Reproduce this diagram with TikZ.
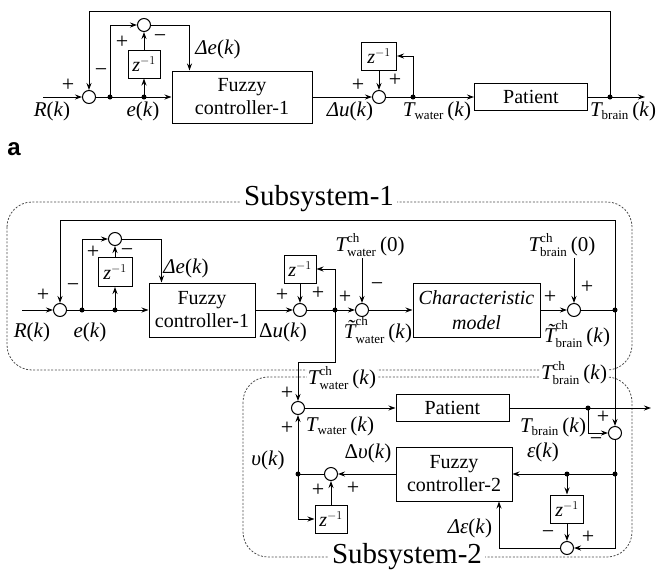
\documentclass[tikz,border=0pt]{standalone}
\usepackage{fontspec}
\usepackage{amsmath}
\setmainfont{Liberation Serif}
\newfontfamily\labfont{Liberation Sans}
\DeclareMathSizes{21}{21}{13}{10}
\DeclareMathSizes{20}{20}{13}{10}
\usetikzlibrary{arrows.meta,calc}
\newcommand\zinv{\textit{z}$^{-1}$}
\newcommand\Tsub[1]{$\text{\itshape T}_{\text{#1}}$\,(\textit{k})}
\newcommand\Tch[2]{$\text{\itshape T}^{\text{ch}}_{\text{#1}}$\,(#2)}
\newcommand\Ttil[1]{$\text{\itshape\~{T}}^{\text{ch}}_{\text{#1}}$\,(\textit{k})}
\tikzset{
  lbl/.style={inner sep=1pt},
  wlbl/.style={inner sep=1pt, fill=white},
  sum/.style={circle, draw, minimum size=13pt, inner sep=0pt, line width=1pt},
  blk/.style={draw, line width=1pt, align=center, inner sep=0pt, font=\fontsize{20}{23}\selectfont},
  zbox/.style={draw, line width=1pt, minimum width=32pt, minimum height=28pt, inner sep=0pt, font=\fontsize{20}{23}\selectfont},
  dot/.style={circle, fill, inner sep=0pt, minimum size=5pt},
  sig/.style={-{Stealth[length=7pt,width=5pt]}, line width=1pt},
  ln/.style={line width=1pt},
  subsys/.style={draw=black!70, dash pattern=on 2pt off 1.6pt, line width=0.8pt, rounded corners=25pt},
  pm/.style={font=\fontsize{22}{22}\selectfont, inner sep=0pt},
  sublbl/.style={font=\fontsize{29}{32}\selectfont, fill=white, inner sep=3pt}
}
\begin{document}
\begin{tikzpicture}[x=1pt,y=-1pt,font=\fontsize{21}{24}\selectfont]
\useasboundingbox (0,0) rectangle (657,571);
% ===================== diagram a =====================
\node[sum] (sA1) at (89,97) {};
\node[sum] (sA2) at (144,25) {};
\node[zbox] (zA1) at (144,64) {\zinv};
\node[blk, minimum width=140pt, minimum height=52pt] (fA) at (242,97) {Fuzzy\\controller-1};
\node[sum] (sA3) at (379,97) {};
\node[zbox, minimum width=35pt] (zA2) at (379,56) {\zinv};
\node[blk, minimum width=113pt, minimum height=27pt] (pA) at (531,97) {Patient};
\node[dot] (dA1) at (110,97) {};
\node[dot] (dA2) at (144,97) {};
\node[dot] (dA3) at (413,97) {};
\node[dot] (dA4) at (610,97) {};
\coordinate (inA) at (43,97);
\coordinate (outA) at (645,97);
\coordinate (topA) at (89,11);

\draw[sig] (inA) -- (sA1);
\draw[sig] (sA1) -- (fA);
\draw[sig] (dA1.center) |- (sA2);
\draw[sig] (dA2.center) -- (zA1);
\draw[sig] (zA1) -- (sA2);
\draw[sig] (sA2) -| ([xshift=18pt]fA.north west);
\draw[sig] (fA) -- (sA3);
\draw[sig] (sA3) -- (pA);
\draw[sig] (dA3.center) |- (zA2);
\draw[sig] (zA2) -- (sA3);
\draw[sig] (pA) -- (outA);
\draw[sig] (dA4.center) |- (topA) -- (sA1);

\node[pm] (pA1) at (68,85) {+};
\node[pm] (mA1) at (101,73) {−};
\node[pm] (pA2) at (122,42) {+};
\node[pm] (mA2) at (160,39) {−};
\node[pm] (pA3) at (358,85) {+};
\node[pm] (pA4) at (395,80) {+};
\node[lbl] (lDe) at (218,49) {\textit{Δe}(\textit{k})};
\node[lbl] (lR) at (52,111) {\textit{R}(\textit{k})};
\node[lbl] (le) at (143,111) {\textit{e}(\textit{k})};
\node[lbl] (lDu) at (350,111) {\textit{Δu}(\textit{k})};
\node[lbl] (lTw) at (437,111) {\Tsub{water}};
\node[lbl] (lTb) at (623,111) {\Tsub{brain}};
\node[font=\labfont\bfseries\fontsize{24}{24}\selectfont, inner sep=0pt] (la) at (14,149) {a};

% ===================== diagram b =====================
\draw[subsys] (7,202) rectangle (632,370);
\draw[subsys] (243,377) rectangle (632,557);
\node[sublbl] (ss1) at (319,199) {Subsystem-1};
\node[sublbl] (ss2) at (407,557) {Subsystem-2};

\node[sum] (s1) at (60,310) {};
\node[sum] (s2) at (115,239) {};
\node[zbox, minimum width=34pt, minimum height=29pt] (z1) at (115,272) {\zinv};
\node[blk, minimum width=106pt, minimum height=54pt] (f1) at (202,310) {Fuzzy\\controller-1};
\node[sum] (s3) at (300,310) {};
\node[zbox] (z2) at (300,269) {\zinv};
\node[sum] (s4) at (362,310) {};
\node[blk, minimum width=127pt, minimum height=54pt, font=\fontsize{20}{25}\selectfont\itshape] (cm) at (476.5,310) {Characteristic\\model};
\node[sum] (s5) at (574,310) {};
\node[dot] (d1) at (82,310) {};
\node[dot] (d2) at (115,310) {};
\node[dot] (d3) at (335,310) {};
\node[dot] (d4) at (615,310) {};
\coordinate (inB) at (22,310);
\coordinate (topB) at (60,220);
\coordinate (w0) at (362,258);
\coordinate (b0) at (574,258);
\coordinate (kW) at (298,362);

\node[sum] (s7) at (298,408) {};
\node[blk, minimum width=113pt, minimum height=27pt] (p) at (452.5,408) {Patient};
\node[dot] (d5) at (588,408) {};
\coordinate (outB) at (651,408);
\node[sum] (s6) at (615,433) {};
\node[dot] (d6) at (615,474) {};
\node[dot] (d7) at (567,474) {};
\node[zbox, minimum width=33pt] (z3) at (567,509) {\zinv};
\node[sum] (s8) at (567,548) {};
\node[blk, minimum width=116pt, minimum height=54pt] (f2) at (454,474) {Fuzzy\\controller-2};
\node[sum] (s9) at (331,474) {};
\node[dot] (d8) at (298,474) {};
\node[zbox] (z4) at (331,519) {\zinv};

% labels that hide the dashed frames
\node[wlbl] (lTwk) at (342,378) {\Tch{water}{\textit{k}}};
\node[wlbl] (lTbk) at (574,373) {\Tch{brain}{\textit{k}}};

% connectors, subsystem 1
\draw[sig] (inB) -- (s1);
\draw[sig] (s1) -- (f1);
\draw[sig] (d1.center) |- (s2);
\draw[sig] (d2.center) -- (z1);
\draw[sig] (z1) -- (s2);
\draw[sig] (s2) -| ([xshift=13pt]f1.north west);
\draw[sig] (f1) -- (s3);
\draw[sig] (s3) -- (s4);
\draw[sig] (d3.center) |- (z2);
\draw[sig] (z2) -- (s3);
\draw[sig] (w0) -- (s4);
\draw[sig] (s4) -- (cm);
\draw[sig] (cm) -- (s5);
\draw[sig] (b0) -- (s5);
\draw[ln] (s5) -- (d4.center);
\draw[sig] (d4.center) |- (topB) -- (s1);
\draw[sig] (d4.center) -- (s6);
\draw[sig] (d3.center) |- (kW) -- (s7);
% connectors, subsystem 2
\draw[sig] (s7) -- (p);
\draw[sig] (p) -- (outB);
\draw[sig] (d5.center) |- (s6);
\draw[ln] (s6) -- (d6.center);
\draw[sig] (d6.center) -- (f2);
\draw[sig] (d7.center) -- (z3);
\draw[sig] (z3) -- (s8);
\draw[sig] (d6.center) |- (s8);
\draw[sig] (s8) -| ([xshift=45pt]f2.south);
\draw[sig] (f2) -- (s9);
\draw[ln] (s9) -- (d8.center);
\draw[sig] (d8.center) -- (s7);
\draw[sig] (d8.center) |- (z4);
\draw[sig] (z4) -- (s9);

% signs
\node[pm] (pB1) at (43,295) {+};
\node[pm] (mB1) at (73,288) {−};
\node[pm] (pB2) at (93,252) {+};
\node[pm] (mB2) at (127,253) {−};
\node[pm] (pB3) at (282,295) {+};
\node[pm] (pB4) at (318,293) {+};
\node[pm] (pB5) at (345,297) {+};
\node[pm] (mB5) at (377,287) {−};
\node[pm] (pB6) at (550,297) {+};
\node[pm] (pB7) at (587,287) {+};
\node[pm] (pB8) at (287,393) {+};
\node[pm] (pB9) at (287,428) {+};
\node[pm] (pB10) at (603,417) {+};
\node[pm] (mB10) at (596,442) {−};
\node[pm] (pB11) at (318,490) {+};
\node[pm] (pB12) at (353,488) {+};
\node[pm] (mB13) at (548,535) {−};
\node[pm] (pB13) at (588,537) {+};

% labels
\node[lbl] (lRb) at (32,332) {\textit{R}(\textit{k})};
\node[lbl] (leb) at (90,332) {\textit{e}(\textit{k})};
\node[lbl] (lDeb) at (186,268) {\textit{Δe}(\textit{k})};
\node[lbl] (lDub) at (283,332) {Δ\textit{u}(\textit{k})};
\node[lbl] (lTw0) at (370,245) {\Tch{water}{0}};
\node[lbl] (lTb0) at (562,245) {\Tch{brain}{0}};
\node[lbl] (lTtw) at (378,330) {\Ttil{water}};
\node[lbl] (lTtb) at (577,334) {\Ttil{brain}};
\node[lbl] (lTwb) at (340,426) {\Tsub{water}};
\node[lbl] (lTbb) at (553,427) {\Tsub{brain}};
\node[lbl] (leps) at (543,452) {\textit{ε}(\textit{k})};
\node[lbl] (lDeps) at (470,528) {\textit{Δε}(\textit{k})};
\node[lbl] (lDv) at (368,453) {Δ\textit{υ}(\textit{k})};
\node[lbl] (lv) at (268,460) {\textit{υ}(\textit{k})};
\end{tikzpicture}
\end{document}
